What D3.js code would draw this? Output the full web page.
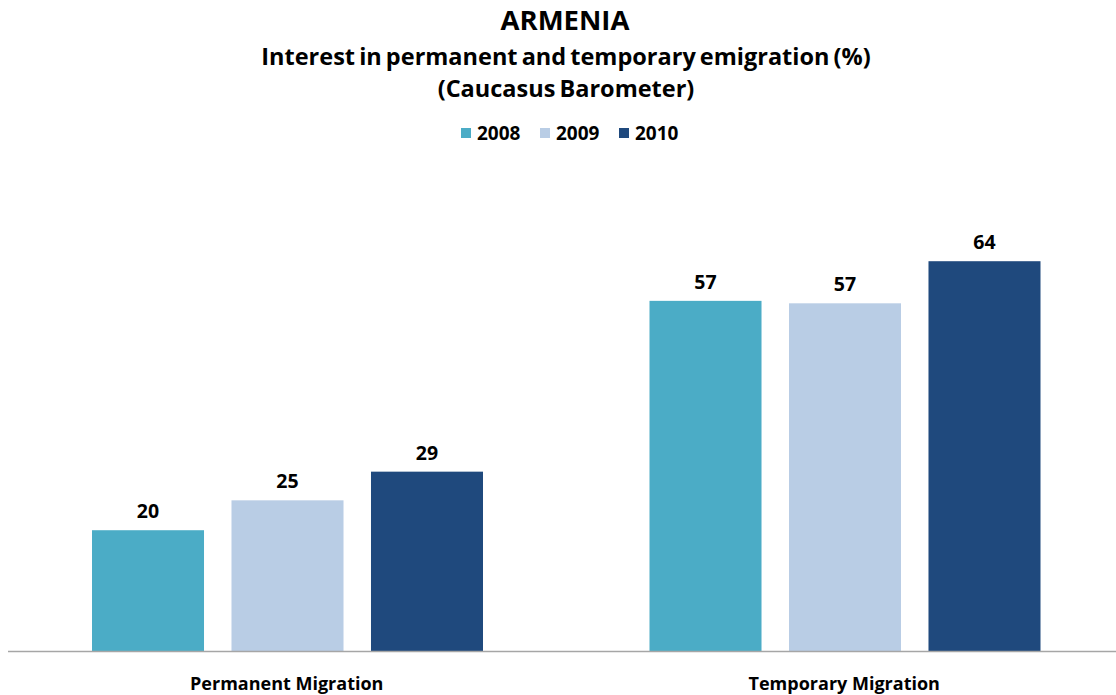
<!DOCTYPE html>
<html>
<head>
<meta charset="utf-8">
<script src="https://cdn.jsdelivr.net/npm/d3@7/dist/d3.min.js"></script>
<style>
  html, body { margin: 0; padding: 0; background: #ffffff; }
  svg { display: block; }
  text { font-family: "Open Sans", Lato, sans-serif; font-weight: bold; fill: #000; }
</style>
</head>
<body>
<svg id="chart" width="1116" height="695"></svg>
<script>
// Interest in emigration, Armenia, by year (%)
const categories = ["Permanent Migration", "Temporary Migration"];
const years = ["2008", "2009", "2010"];
const values2008 = [19.8, 57.4];
const values2009 = [24.7, 57.0];
const values2010 = [29.4, 63.9];
const yearColors = ["#4BACC6", "#B9CDE5", "#1F497D"];

const seriesValues = [values2008, values2009, values2010];
const rows = categories.map((c, i) => ({
  category: c,
  bars: years.map((y, j) => ({ year: y, value: seriesValues[j][i] }))
}));

const svg = d3.select("#chart");
const W = 1116, H = 695;
const baseY = 651;

// Scales
const x0 = d3.scaleBand().domain(categories).range([8, 1123]).padding(0);
const x1 = d3.scaleBand().domain(years).range([84, 475]).paddingInner(0.197).paddingOuter(0);
const y = d3.scaleLinear().domain([0, 100]).range([baseY, baseY - 610]);
const color = d3.scaleOrdinal().domain(years).range(yearColors);
const fmt = d3.format(".0f");

// Title
const title = svg.append("g").attr("text-anchor", "middle");
title.append("text").attr("x", 565).attr("y", 30).style("font-size", "27.5px").text("ARMENIA");
title.append("text").attr("x", 566).attr("y", 65).style("font-size", "23.5px")
  .style("word-spacing", "-2px")
  .text("Interest in permanent and temporary emigration (%)");
title.append("text").attr("x", 566).attr("y", 97).style("font-size", "23.5px")
  .style("word-spacing", "-2px")
  .text("(Caucasus Barometer)");

// Legend
const legendX = d3.scalePoint().domain(years).range([461, 619]);
const legend = svg.append("g");
const li = legend.selectAll("g").data(years).join("g")
  .attr("transform", d => `translate(${legendX(d)},128)`);
li.append("rect").attr("width", 10).attr("height", 10).attr("fill", d => color(d));
li.append("text").attr("x", 16).attr("y", 11.5).style("font-size", "19px").text(d => d);

// Bars
const groups = svg.append("g").selectAll("g").data(rows).join("g")
  .attr("transform", d => `translate(${x0(d.category)},0)`);

groups.selectAll("rect").data(d => d.bars).join("rect")
  .attr("x", d => x1(d.year))
  .attr("width", x1.bandwidth())
  .attr("y", d => y(d.value))
  .attr("height", d => baseY - y(d.value))
  .attr("fill", d => color(d.year));

groups.selectAll("text.val").data(d => d.bars).join("text")
  .attr("class", "val")
  .attr("text-anchor", "middle")
  .attr("x", d => x1(d.year) + x1.bandwidth() / 2)
  .attr("y", d => y(d.value) - 12)
  .style("font-size", "19.5px")
  .text(d => fmt(d.value));

// Category axis
const axis = svg.append("g").attr("transform", `translate(0,${baseY})`)
  .call(d3.axisBottom(x0).tickSize(0).tickPadding(26));
axis.select(".domain").attr("stroke", "#A6A6A6").attr("stroke-width", 1.5)
  .attr("d", `M8,0.5H${W}`);
axis.selectAll(".tick text")
  .attr("dy", "0.71em")
  .style("font-size", "18px")
  .style("font-family", "'Open Sans', Lato, sans-serif")
  .style("font-weight", "bold")
  .attr("fill", "#000");
</script>
</body>
</html>
